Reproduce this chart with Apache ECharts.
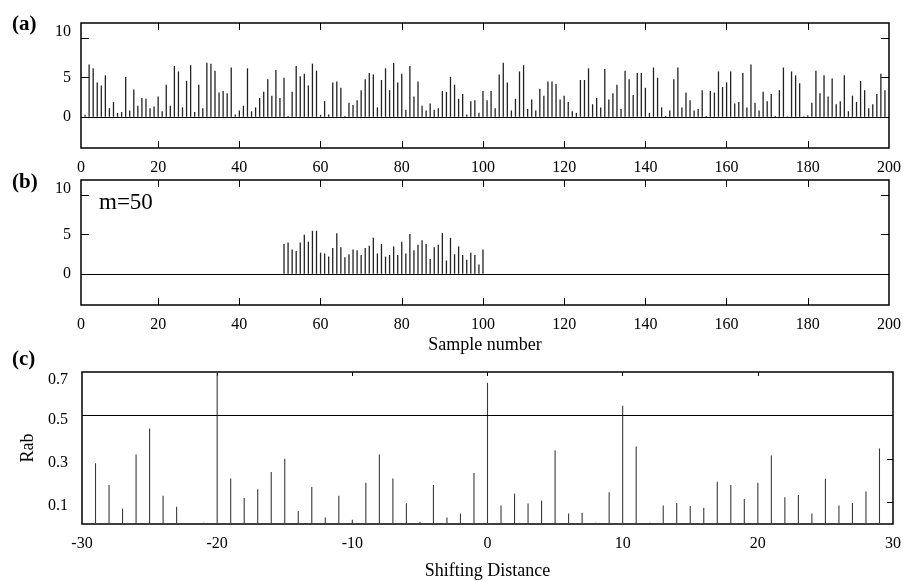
<!DOCTYPE html>
<html>
<head>
<meta charset="utf-8">
<script src="https://cdn.jsdelivr.net/npm/echarts@6/dist/echarts.min.js"></script>
<style>
  html, body { margin: 0; padding: 0; background: #fff; }
  #chart { width: 904px; height: 581px; }
</style>
</head>
<body>
<div id="chart"></div>
<script>
// (a) full sequence, first stem sits at sample 2
const sampleStart = 2
const seqA = [
  0.25, 6.7, 6.2, 4.4, 4.0, 5.3, 1.1, 1.9, 0.5, 0.6,
  5.1, 0.8, 3.5, 1.4, 2.4, 2.3, 1.1, 1.3, 2.6, 0.7,
  4.1, 1.4, 6.5, 5.8, 1.2, 4.6, 6.6, 0.6, 4.1, 1.1,
  6.9, 6.8, 5.9, 3.1, 3.3, 3.0, 6.3, 0.3, 0.8, 1.4,
  6.2, 0.7, 1.2, 2.4, 3.2, 4.8, 2.7, 6.0, 2.4, 5.0,
  0.1, 3.2, 6.5, 5.2, 5.5, 4.0, 6.8, 5.9, 0.25, 2.0,
  0.3, 4.4, 4.5, 3.7, 0.1, 1.8, 1.5, 2.1, 3.4, 4.8,
  5.6, 5.4, 1.2, 4.7, 6.2, 3.4, 6.9, 4.4, 5.5, 0.9,
  6.5, 2.6, 4.5, 1.4, 0.8, 1.7, 0.9, 1.1, 3.3, 3.2,
  5.1, 4.1, 2.3, 2.9, 0.3, 2.0, 2.1, 0.5, 3.3, 2.1,
  3.3, 1.1, 5.4, 6.9, 4.4, 0.8, 2.3, 5.8, 6.6, 1.0,
  2.2, 0.8, 3.6, 2.7, 4.5, 4.5, 4.2, 2.2, 2.7, 1.9,
  0.7, 0.5, 4.7, 4.7, 6.2, 1.6, 2.4, 1.2, 6.1, 2.2,
  3.0, 4.1, 1.0, 5.9, 4.8, 2.8, 5.6, 5.6, 3.7, 0.5,
  6.3, 5.0, 1.2, 0.1, 0.8, 4.8, 6.3, 1.2, 3.1, 2.1,
  0.8, 1.0, 3.4, 0.1, 3.3, 3.1, 5.8, 3.8, 4.4, 5.8,
  1.7, 1.9, 5.6, 1.2, 6.7, 1.8, 0.8, 3.2, 2.0, 2.9,
  0.1, 3.4, 6.3, 0.05, 5.8, 5.3, 4.3, 0.05, 0.2, 1.8,
  5.9, 3.0, 5.3, 2.6, 4.9, 1.6, 2.0, 5.3, 0.7, 2.7,
  1.9, 4.6, 3.4, 1.1, 1.6, 2.9, 5.5, 3.4
]

// (b) window of m=50 samples
const windowStart = 51
const seqB = [
  3.8, 4.0, 3.1, 2.9, 4.0, 5.0, 4.1, 5.5, 5.5, 2.7,
  2.6, 2.2, 3.3, 5.2, 3.4, 2.1, 2.5, 3.1, 3.0, 2.4,
  3.3, 3.6, 4.6, 2.6, 3.8, 2.2, 2.4, 3.5, 2.4, 4.1,
  2.6, 5.1, 3.0, 3.7, 4.3, 3.8, 1.9, 3.4, 3.7, 5.2,
  1.7, 4.6, 2.5, 3.5, 2.4, 1.8, 2.7, 2.4, 1.2, 3.1
]

// (c) correlation against shift
const shifts = [
  -29, -28, -27, -26, -25, -24, -23, -22, -21, -20,
  -19, -18, -17, -16, -15, -14, -13, -12, -11, -10,
  -9, -8, -7, -6, -5, -4, -3, -2, -1, 0,
  1, 2, 3, 4, 5, 6, 7, 8, 9, 10,
  11, 12, 13, 14, 15, 16, 17, 18, 19, 20,
  21, 22, 23, 24, 25, 26, 27, 28, 29
]
const rab = [
  0.28, 0.18, 0.07, 0.32, 0.44, 0.13, 0.08, 0.005, 0.006, 0.70,
  0.21, 0.12, 0.16, 0.24, 0.30, 0.06, 0.17, 0.03, 0.13, 0.02,
  0.19, 0.32, 0.21, 0.095, 0.01, 0.18, 0.03, 0.048, 0.235, 0.65,
  0.085, 0.14, 0.094, 0.108, 0.34, 0.048, 0.052, 0.006, 0.146, 0.545,
  0.357, 0.006, 0.085, 0.097, 0.083, 0.075, 0.195, 0.18, 0.115, 0.19,
  0.315, 0.123, 0.134, 0.048, 0.208, 0.085, 0.097, 0.15, 0.348
]

const sampleTicks = [0, 20, 40, 60, 80, 100, 120, 140, 160, 180, 200]
const ampTicks = [0, 5, 10]
const shiftTicks = [-30, -20, -10, 0, 10, 20, 30]
const rabTicks = [0.1, 0.3, 0.5, 0.7]
const rabLine = 0.5

const serif = 'Liberation Serif'
const sampleMin = 1

const chart = echarts.init(document.getElementById('chart'))

const labelStyle = { fontFamily: serif, fontSize: 16, color: '#000' }
const noLine = { show: false, onZero: false }

const sampleAxes = (gridIndex) => [
  {
    gridIndex, type: 'value', position: 'bottom', min: sampleMin, max: 200,
    axisLine: noLine,
    splitLine: { show: false },
    axisTick: { inside: true, length: 7, lineStyle: { color: '#000' }, customValues: sampleTicks.slice(1, -1) },
    axisLabel: {
      ...labelStyle, margin: 12,
      customValues: sampleTicks.map(t => Math.max(t, sampleMin)),
      formatter: v => (v === sampleMin ? '0' : String(v))
    }
  },
  {
    gridIndex, type: 'value', position: 'top', min: sampleMin, max: 200,
    axisLine: noLine,
    splitLine: { show: false },
    axisTick: { inside: true, length: 7, lineStyle: { color: '#000' }, customValues: sampleTicks.slice(1, -1) },
    axisLabel: { show: false }
  }
]

const ampAxes = (gridIndex) => [
  {
    gridIndex, type: 'value', position: 'left', min: -4, max: 12,
    axisLine: noLine,
    splitLine: { show: false },
    axisTick: { inside: true, length: 8, lineStyle: { color: '#000' }, customValues: ampTicks.slice(1) },
    axisLabel: {
      ...labelStyle, margin: 10,
      customValues: ampTicks,
      formatter: v => (v === 10 ? '{up|10}' : String(v)),
      rich: { up: { ...labelStyle, padding: [0, 0, 14, 0] } }
    }
  },
  {
    gridIndex, type: 'value', position: 'right', min: -4, max: 12,
    axisLine: noLine,
    splitLine: { show: false },
    axisTick: { inside: true, length: 8, lineStyle: { color: '#000' }, customValues: ampTicks.slice(1) },
    axisLabel: { show: false }
  }
]

const frame = { show: true, borderColor: '#000', borderWidth: 1.5, backgroundColor: 'transparent' }

const zeroLine = {
  silent: true, symbol: 'none', label: { show: false },
  lineStyle: { color: '#000', width: 1.2, type: 'solid' },
  data: [{ yAxis: 0 }]
}

const option = {
  animation: false,
  backgroundColor: '#fff',
  grid: [
    { left: 81, top: 23, width: 810, height: 125, ...frame },
    { left: 81, top: 180, width: 810, height: 125, ...frame },
    { left: 82, top: 372, width: 811, height: 152, ...frame }
  ],
  xAxis: [
    ...sampleAxes(0),
    {
      ...sampleAxes(1)[0],
      name: 'Sample number', nameLocation: 'middle', nameGap: 31,
      nameTextStyle: { fontFamily: serif, fontSize: 18, color: '#000' }
    },
    sampleAxes(1)[1],
    {
      gridIndex: 2, type: 'value', position: 'bottom', min: -30, max: 30, interval: 10,
      axisLine: noLine, splitLine: { show: false },
      axisTick: { show: false },
      axisLabel: { ...labelStyle, margin: 12, customValues: shiftTicks },
      name: 'Shifting Distance', nameLocation: 'middle', nameGap: 38,
      nameTextStyle: { fontFamily: serif, fontSize: 18, color: '#000' }
    },
    {
      gridIndex: 2, type: 'value', position: 'top', min: -30, max: 30,
      axisLine: noLine, splitLine: { show: false },
      axisTick: { inside: true, length: 4, lineStyle: { color: '#000' }, customValues: shiftTicks.slice(1, -1) },
      axisLabel: { show: false }
    }
  ],
  yAxis: [
    ...ampAxes(0),
    ...ampAxes(1),
    {
      gridIndex: 2, type: 'value', position: 'left', min: 0, max: 0.7,
      axisLine: noLine, splitLine: { show: false },
      axisTick: { show: false },
      axisLabel: {
        ...labelStyle, margin: 14,
        customValues: rabTicks,
        formatter: v => (v === 0.7 ? '{t|0.7}' : '{d|' + v + '}'),
        rich: {
          t: { ...labelStyle, padding: [16, 0, 0, 0] },
          d: { ...labelStyle, padding: [8, 0, 0, 0] }
        }
      },
      name: 'Rab', nameLocation: 'middle', nameGap: 45,
      nameTextStyle: { fontFamily: serif, fontSize: 18, color: '#000' }
    },
    {
      gridIndex: 2, type: 'value', position: 'right', min: 0, max: 0.7,
      axisLine: noLine, splitLine: { show: false },
      axisTick: { inside: true, length: 6, lineStyle: { color: '#000' }, customValues: [0.1, 0.3] },
      axisLabel: { show: false }
    }
  ],
  series: [
    {
      type: 'bar', xAxisIndex: 0, yAxisIndex: 0, barWidth: 1.3,
      itemStyle: { color: '#222' },
      data: seqA.map((v, i) => [sampleStart + i, v]),
      markLine: zeroLine
    },
    {
      type: 'bar', xAxisIndex: 2, yAxisIndex: 2, barWidth: 1.3,
      itemStyle: { color: '#222' },
      data: seqB.map((v, i) => [windowStart + i, v]),
      markLine: zeroLine
    },
    {
      type: 'bar', xAxisIndex: 4, yAxisIndex: 4, barWidth: 1.1,
      itemStyle: { color: '#3a3a3a' },
      data: shifts.map((s, i) => [s, rab[i]]),
      markLine: { ...zeroLine, lineStyle: { color: '#000', width: 1.1, type: 'solid' }, data: [{ yAxis: rabLine }] }
    }
  ],
  graphic: [
    { type: 'text', left: 12, top: 14, style: { text: '(a)', font: 'bold 21px "Liberation Serif"', fill: '#000' } },
    { type: 'text', left: 12, top: 172, style: { text: '(b)', font: 'bold 21px "Liberation Serif"', fill: '#000' } },
    { type: 'text', left: 12, top: 349, style: { text: '(c)', font: 'bold 21px "Liberation Serif"', fill: '#000' } },
    { type: 'text', left: 99, top: 191, style: { text: 'm=50', font: '23px "Liberation Serif"', fill: '#000' } }
  ]
}

chart.setOption(option)
</script>
</body>
</html>
